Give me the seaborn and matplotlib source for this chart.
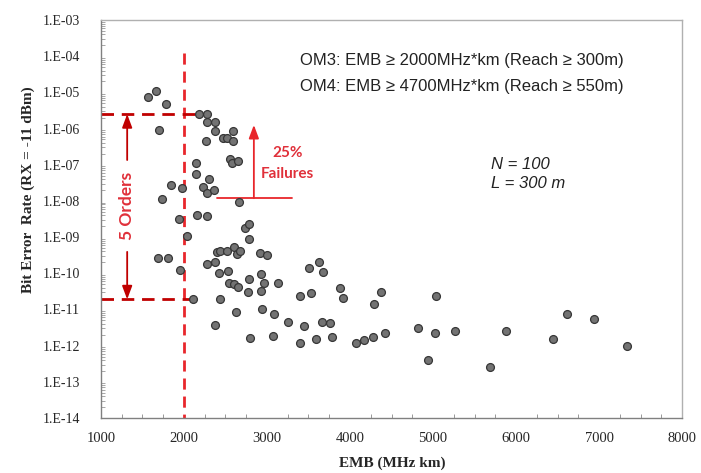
import numpy as np
import pandas as pd
import matplotlib
matplotlib.use("Agg")
import matplotlib.pyplot as plt
import matplotlib.ticker as mticker
import seaborn as sns

# ---------------- data ----------------
emb = [1570, 1666, 1779, 1695, 2180, 2280, 2280, 2376, 2376, 2268,
       2472, 2513, 2586, 2586, 2553, 2574, 2646, 2147, 2147, 2304,
       1843, 1975, 2224, 2280, 2361, 1731, 2662, 2156, 2273, 1936,
       2035, 2737, 2786, 2786, 1683, 1807, 1951, 2282, 2375, 2397,
       2436, 2523, 2598, 2637, 2674, 2914, 2999, 2421, 2535, 2543,
       2599, 2652, 2784, 2924, 2962, 3131, 2772, 2926, 2104, 2433,
       2625, 2942, 3087, 2376, 2800, 3074, 3621, 3508, 3669, 3396,
       3532, 3881, 3910, 4375, 4287, 3255, 3444, 3657, 3757, 3396,
       3595, 3781, 4073, 4163, 4278, 4416, 4823, 5030, 4945, 5021,
       5259, 5876, 5687, 6446, 6611, 6939, 7337]
ber = [7.6e-6, 1.07e-5, 4.9e-6, 9.1e-7, 2.6e-6, 2.6e-6, 1.55e-6, 1.55e-6, 8.6e-7, 4.6e-7,
       5.4e-7, 5.4e-7, 8.6e-7, 4.4e-7, 1.42e-7, 1.14e-7, 1.27e-7, 1.1e-7, 5.6e-8, 4.1e-8,
       2.7e-8, 2.3e-8, 2.5e-8, 1.7e-8, 2.0e-8, 1.14e-8, 9.4e-9, 4.2e-9, 3.9e-9, 3.1e-9,
       1.08e-9, 1.8e-9, 2.3e-9, 8.9e-10, 2.7e-10, 2.6e-10, 1.24e-10, 1.76e-10, 2.1e-10, 3.8e-10,
       4.0e-10, 4.2e-10, 5.4e-10, 3.4e-10, 4.0e-10, 3.6e-10, 3.3e-10, 1.05e-10, 1.15e-10, 5.3e-11,
       4.9e-11, 4.2e-11, 7.1e-11, 9.5e-11, 5.5e-11, 5.5e-11, 3.1e-11, 3.3e-11, 1.9e-11, 1.9e-11,
       8.7e-12, 1.04e-11, 7.4e-12, 3.7e-12, 1.66e-12, 1.85e-12, 2.0e-10, 1.38e-10, 1.07e-10, 2.3e-11,
       2.8e-11, 4.0e-11, 2.1e-11, 3.1e-11, 1.45e-11, 4.5e-12, 3.6e-12, 4.4e-12, 4.1e-12, 1.16e-12,
       1.51e-12, 1.71e-12, 1.16e-12, 1.42e-12, 1.71e-12, 2.2e-12, 3.1e-12, 2.4e-11, 4.0e-13, 2.2e-12,
       2.6e-12, 2.6e-12, 2.5e-13, 1.51e-12, 7.4e-12, 5.6e-12, 1.0e-12]

x_ticks = [1000, 2000, 3000, 4000, 5000, 6000, 7000, 8000]
y_ticks = [1e-3, 1e-4, 1e-5, 1e-6, 1e-7, 1e-8, 1e-9, 1e-10, 1e-11, 1e-12, 1e-13, 1e-14]
y_tick_labels = ["1.E-03", "1.E-04", "1.E-05", "1.E-06", "1.E-07", "1.E-08",
                 "1.E-09", "1.E-10", "1.E-11", "1.E-12", "1.E-13", "1.E-14"]

om3_emb = 2000
om3_line_top = 1.2e-4
orders_top = 2.5e-6
orders_bottom = 1.9e-11
orders_x = 1316
orders_line_end = 2220
orders_arrow_up_start = 1.35e-7
orders_arrow_down_start = 3.9e-10
orders_text_y = 7.2e-9
fail_x = 2842
fail_base = 1.19e-8
fail_tip = 1.26e-6
fail_line = [2393, 3296]
fail_text_x = 3251
fail_text_y = [2.05e-7, 5.7e-8]

df = pd.DataFrame({"EMB": emb, "BER": ber})

# ---------------- style ----------------
sns.set_style("white")
plt.rcParams["font.family"] = ["Liberation Serif", "DejaVu Sans"]

fig = plt.figure(figsize=(7.01, 4.73), dpi=100)
ax = fig.add_axes([0.144, 0.1163, 0.829, 0.8414])

sns.scatterplot(data=df, x="EMB", y="BER", ax=ax, s=32,
                color="#737373", edgecolor="#363636", linewidth=0.9, zorder=3)

ax.set_yscale("log")
ax.set_xlim(1000, 8000)
ax.set_ylim(1e-14, 1e-3)
ax.set_xticks(x_ticks)
ax.set_xticklabels([str(v) for v in x_ticks], fontsize=10.5)
ax.set_yticks(y_ticks)
ax.set_yticklabels(y_tick_labels, fontsize=10)
ax.yaxis.set_minor_locator(mticker.LogLocator(base=10, subs=np.arange(2, 10), numticks=200))
ax.yaxis.set_minor_formatter(mticker.NullFormatter())
ax.xaxis.set_minor_locator(mticker.MultipleLocator(250))

ax.tick_params(axis="y", which="major", direction="out", length=4, width=0.8, color="#777777", pad=11)
ax.tick_params(axis="y", which="minor", direction="in", length=3, width=0.6, color="#999999", left=True)
ax.tick_params(axis="x", which="major", direction="inout", length=8, width=0.8, color="#777777", pad=6)
ax.tick_params(axis="x", which="minor", direction="in", length=3, width=0.6, color="#888888", bottom=True)

for side in ["left", "bottom"]:
    ax.spines[side].set_color("#808080")
    ax.spines[side].set_linewidth(1.0)
for side in ["top", "right"]:
    ax.spines[side].set_color("#b0b0b0")
    ax.spines[side].set_linewidth(1.0)

ax.set_xlabel("")
ax.set_ylabel("")
fig.text(0.559, 0.02, "EMB (MHz km)", ha="center", va="center",
         fontsize=11, fontweight="bold", family=["Liberation Serif"])
fig.text(0.040, 1 - 190 / 473, "Bit Error  Rate (RX = -11 dBm)", ha="center", va="center",
         rotation=90, fontsize=11, fontweight="bold", family=["Liberation Serif"])

# ---------------- annotations ----------------
red = "#E8262B"
dark_red = "#C00000"
text_red = "#E0303A"

ax.plot([om3_emb, om3_emb], [om3_line_top, 1e-14], color=red, lw=2,
        dashes=(4, 2.5), zorder=2)
ax.plot([1000, orders_line_end], [orders_top, orders_top], color=dark_red, lw=2,
        dashes=(4.5, 2.8), zorder=2)
ax.plot([1000, orders_line_end], [orders_bottom, orders_bottom], color=dark_red, lw=2,
        dashes=(4.5, 2.8), zorder=2)

arrow_kw = dict(arrowstyle="-|>,head_length=0.8,head_width=0.3", lw=1.3, shrinkA=0, shrinkB=0)
ax.annotate("", xy=(orders_x, orders_top), xytext=(orders_x, orders_arrow_up_start),
            arrowprops=dict(color=dark_red, **arrow_kw))
ax.annotate("", xy=(orders_x, orders_bottom), xytext=(orders_x, orders_arrow_down_start),
            arrowprops=dict(color=dark_red, **arrow_kw))
ax.text(orders_x, orders_text_y, "5 Orders", rotation=90, ha="center", va="center",
        color=text_red, fontsize=12.5, fontweight="bold", family=["Lato", "DejaVu Sans"])

ax.plot(fail_line, [fail_base, fail_base], color=red, lw=1.3, zorder=2)
ax.annotate("", xy=(fail_x, fail_tip), xytext=(fail_x, fail_base),
            arrowprops=dict(color=red, **arrow_kw))
ax.text(fail_text_x, fail_text_y[0], "25%", ha="center", va="center",
        color=text_red, fontsize=11, fontweight="bold", family=["Lato", "DejaVu Sans"])
ax.text(fail_text_x, fail_text_y[1], "Failures", ha="center", va="center",
        color=text_red, fontsize=11, fontweight="bold", family=["Lato", "DejaVu Sans"])

sans = ["Liberation Sans", "DejaVu Sans"]
ax.text(0.342, 0.899, "OM3: EMB \u2265 2000MHz*km (Reach \u2265 300m)", transform=ax.transAxes,
        ha="left", va="center", fontsize=12, color="#222222", family=sans)
ax.text(0.342, 0.832, "OM4: EMB \u2265 4700MHz*km (Reach \u2265 550m)", transform=ax.transAxes,
        ha="left", va="center", fontsize=12, color="#222222", family=sans)
ax.text(0.672, 0.636, "N = 100", transform=ax.transAxes, ha="left", va="center",
        fontsize=12, style="italic", color="#222222", family=sans)
ax.text(0.672, 0.588, "L = 300 m", transform=ax.transAxes, ha="left", va="center",
        fontsize=12, style="italic", color="#222222", family=sans)

fig.savefig("out.png", dpi=100)
